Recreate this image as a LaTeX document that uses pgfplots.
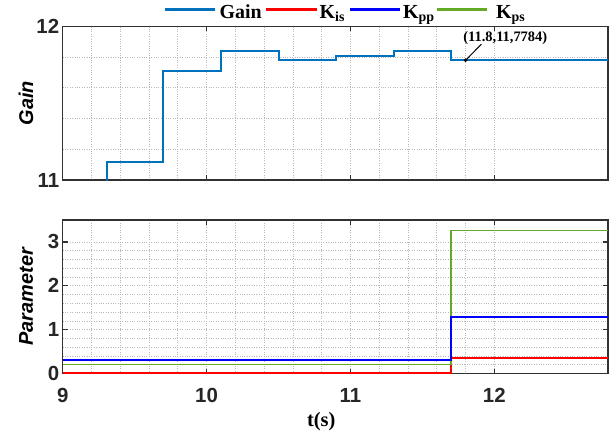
\documentclass[border=0pt]{standalone}
\usepackage{fontspec}
\setmainfont{Liberation Sans}
\newfontfamily\tnr{Liberation Serif}
\usepackage{pgfplots}
\pgfplotsset{compat=1.18}
\definecolor{gainblue}{RGB}{0,114,189}
\definecolor{kred}{RGB}{255,0,0}
\definecolor{kblue}{RGB}{0,0,255}
\definecolor{kgreen}{RGB}{100,170,40}
\definecolor{axframe}{RGB}{50,50,50}
\pgfplotsset{
  myax/.style={
    scale only axis, width=545.3bp, height=153.8bp,
    xmin=9, xmax=12.79,
    xtick={9,10,11,12}, minor x tick num=4,
    grid=both,
    major grid style={dotted, gray!55, line width=0.7bp},
    minor grid style={dotted, gray!55, line width=0.7bp},
    axis line style={draw=axframe, line width=1.3bp},
    tick style={draw=axframe, line width=1.3bp},
    major tick length=5bp, minor tick length=0bp,
    tick align=inside,
    /pgf/number format/assume math mode=true,
    tick label style={font=\fontsize{20.5}{24}\selectfont\bfseries, text=black!85},
    ylabel style={font=\fontsize{20}{24}\selectfont\bfseries\itshape, at={(axis description cs:-0.0673,0.5)}, anchor=center},
  }
}
\begin{document}
\begin{tikzpicture}[x=1bp,y=1bp]
\path[use as bounding box] (0,0) rectangle (613,-430);
% legend
\draw[draw=gainblue, line width=2.2bp] (165,-9.5) -- (215,-9.5);
\draw[draw=kred, line width=2.2bp] (266,-9.5) -- (317,-9.5);
\draw[draw=kblue, line width=2.2bp] (350,-9.5) -- (400,-9.5);
\draw[draw=kgreen, line width=2.2bp] (436.7,-9.5) -- (487,-9.5);
\node[anchor=base west, inner sep=0pt, font=\tnr\bfseries\fontsize{20}{24}\selectfont] at (219.5,-18.3) {Gain};
\node[anchor=base west, inner sep=0pt, font=\tnr\bfseries\fontsize{20}{24}\selectfont] at (319.5,-18.3) {K\textsubscript{is}};
\node[anchor=base west, inner sep=0pt, font=\tnr\bfseries\fontsize{20}{24}\selectfont] at (403,-18.3) {K\textsubscript{pp}};
\node[anchor=base west, inner sep=0pt, font=\tnr\bfseries\fontsize{20}{24}\selectfont] at (496,-18.3) {K\textsubscript{ps}};
% top axis
\begin{axis}[myax,
  at={(62.7bp,-180bp)}, anchor=south west,
  ymin=11, ymax=12, ytick={11,12}, minor y tick num=4,
  xticklabels={},
  ylabel={Gain},
]
\addplot[const plot, gainblue, line width=2bp] coordinates {
(9,10.5) (9.305,11.119) (9.70,11.71) (10.10,11.838) (10.50,11.779)
(10.90,11.808) (11.30,11.842) (11.70,11.778) (12.79,11.778)};
\addplot[only marks, mark=*, mark size=1.6bp, black] coordinates {(11.8,11.7784)};
\draw[black, line width=1bp] (axis cs:11.8,11.7784) -- (axis cs:11.91,11.883);
\node[font=\tnr\bfseries\fontsize{14.5}{16}\selectfont] at (axis cs:12.076,11.92) {(11.8,11,7784)};
\end{axis}
% bottom axis
\begin{axis}[myax,
  at={(62.7bp,-373.6bp)}, anchor=south west,
  height=153.6bp,
  ymin=0, ymax=3.5, ytick={0,1,2,3}, minor y tick num=4,
  xticklabel style={yshift=-11bp},
  ylabel={Parameter},
  xlabel={t(s)},
  xlabel style={font=\tnr\bfseries\fontsize{20.5}{24}\selectfont, at={(axis description cs:0.474,0)}, anchor=center, yshift=-48bp},
]
\addplot[const plot, kred, line width=2bp] coordinates {(9,0.02) (11.7,0.35) (12.79,0.35)};
\addplot[const plot, kgreen, line width=1.5bp] coordinates {(9,0.21) (11.7,3.26) (12.79,3.26)};
\addplot[const plot, kblue, line width=2bp] coordinates {(9,0.30) (11.7,1.30) (12.79,1.30)};
\end{axis}
\end{tikzpicture}
\end{document}
